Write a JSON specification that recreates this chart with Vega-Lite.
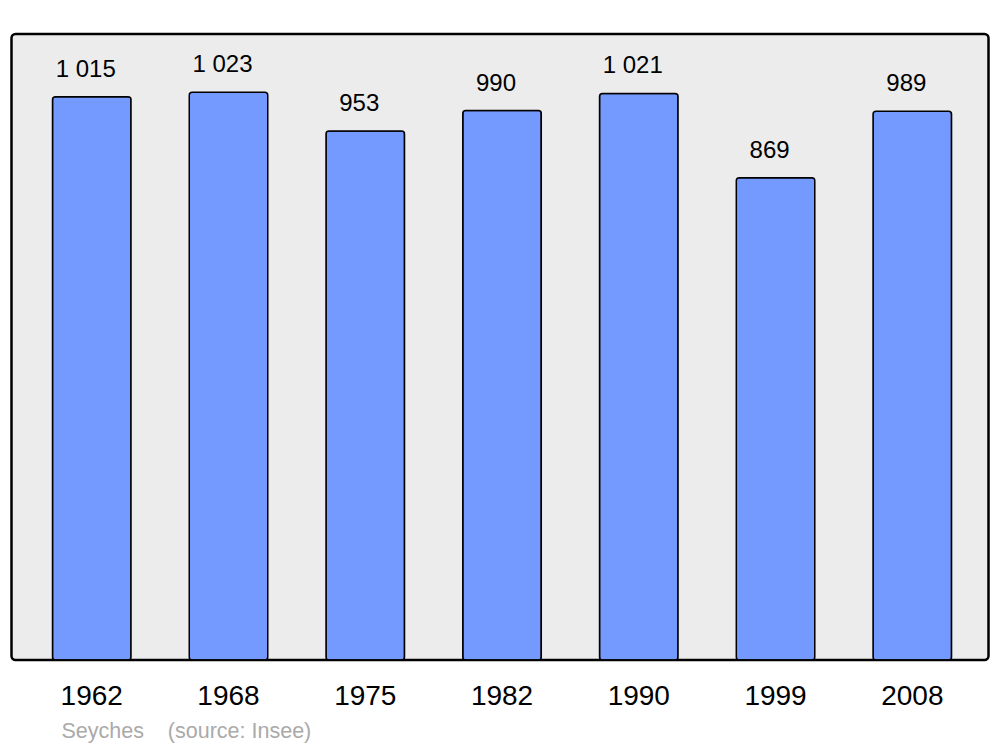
{
  "$schema": "https://vega.github.io/schema/vega-lite/v6.json",
  "width": 977,
  "height": 626,
  "autosize": {"type": "none"},
  "padding": {"left": 11.5, "top": 34, "right": 11.5, "bottom": 87},
  "background": "white",
  "config": {
    "font": "Liberation Sans",
    "locale": {"number": {"decimal": ",", "thousands": " ", "grouping": [3], "currency": ["", " €"]}},
    "view": {"fill": "#ececec", "stroke": "black", "strokeWidth": 2.5, "cornerRadius": 4}
  },
  "title": {
    "text": "Seyches\u00a0\u00a0\u00a0\u00a0(source: Insee)",
    "orient": "bottom",
    "anchor": "start",
    "dx": 50,
    "offset": 11,
    "fontSize": 21.5,
    "fontWeight": "normal",
    "color": "#aaaaaa",
    "font": "Liberation Sans"
  },
  "data": {
    "values": [
      {"year": "1962", "pop": 1015},
      {"year": "1968", "pop": 1023},
      {"year": "1975", "pop": 953},
      {"year": "1982", "pop": 990},
      {"year": "1990", "pop": 1021},
      {"year": "1999", "pop": 869},
      {"year": "2008", "pop": 989}
    ]
  },
  "encoding": {
    "x": {
      "field": "year",
      "type": "ordinal",
      "scale": {"paddingInner": 0.426, "paddingOuter": 0.285, "align": 0.526},
      "axis": {
        "title": null,
        "domain": false,
        "ticks": false,
        "labelAngle": 0,
        "labelFontSize": 28,
        "labelColor": "black",
        "labelPadding": 22,
        "labelFont": "Liberation Sans",
        "labelDx": -3
      }
    },
    "y": {
      "field": "pop",
      "type": "quantitative",
      "scale": {"domain": [0, 1128], "nice": false},
      "axis": null
    }
  },
  "layer": [
    {
      "mark": {"type": "bar", "fill": "#7499ff", "stroke": "black", "strokeWidth": 1.5, "cornerRadius": 3}
    },
    {
      "mark": {"type": "text", "fontSize": 24, "color": "black", "baseline": "alphabetic", "dy": -20, "dx": -6, "font": "Liberation Sans"},
      "encoding": {
        "text": {"field": "pop", "type": "quantitative", "format": ",d"}
      }
    }
  ]
}
